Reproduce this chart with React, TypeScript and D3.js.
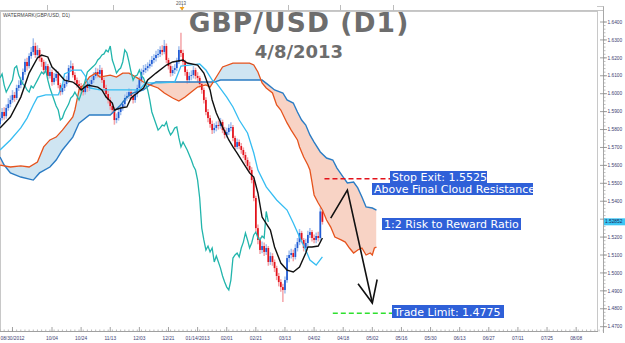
import React from "react";
import * as d3 from "d3";

const W = 625;
const H = 343;

// ---------- price data (pips, /10000) ----------
const firstOpen = 15830;
const closes = [
  15864, 15898, 15875, 15920, 15942, 15965, 15993, 15976, 16032, 16048,
  16076, 16121, 16177, 16154, 16210, 16233, 16266, 16216, 16244, 16199,
  16177, 16132, 16154, 16099, 16121, 16065, 16088, 16110, 16048, 16009,
  16032, 16054, 16076, 16143, 16154, 16104, 16076, 16054, 16043, 16021,
  16009, 16043, 16032, 16054, 16076, 16099, 16121, 16110, 16132, 16076,
  16032, 15998, 15965, 15931, 15909, 15853, 15864, 15898, 15920, 15942,
  15976, 15987, 16009, 15987, 15965, 15998, 16032, 16076, 16121, 16132,
  16143, 16154, 16166, 16188, 16199, 16216, 16222, 16244, 16233, 16266,
  16188, 16154, 16115, 16132, 16143, 16177, 16244, 16227, 16177, 16121,
  16076, 16099, 16104, 16132, 16099, 16088, 16054, 16021, 15965, 15898,
  15864, 15831, 15797, 15809, 15825, 15820, 15842, 15797, 15770, 15786,
  15809, 15814, 15753, 15703, 15730, 15708, 15686, 15658, 15630, 15597,
  15574, 15518, 15418, 15250, 15184, 15128, 15150, 15117, 15139, 15061,
  15094, 15061, 15027, 14983, 14949, 14921, 14905, 14960, 15083, 15100,
  15111, 15089, 15139, 15172, 15223, 15184, 15139, 15167, 15212, 15228,
  15195, 15184, 15206, 15195, 15343, 15285,
];
const highs = [
  15890, 15920, 15925, 15940, 15975, 15990, 16020, 16010, 16050, 16075,
  16095, 16140, 16195, 16200, 16225, 16260, 16309, 16285, 16270, 16255,
  16215, 16190, 16180, 16165, 16150, 16135, 16115, 16135, 16125, 16060,
  16055, 16075, 16100, 16160, 16185, 16170, 16120, 16090, 16075, 16060,
  16040, 16065, 16070, 16080, 16095, 16120, 16145, 16140, 16160, 16145,
  16090, 16050, 16015, 15980, 15950, 15925, 15890, 15915, 15940, 15960,
  15995, 16010, 16030, 16025, 16000, 16020, 16050, 16095, 16140, 16160,
  16165, 16175, 16190, 16210, 16220, 16240, 16250, 16265, 16270, 16300,
  16280, 16200, 16170, 16155, 16165, 16200, 16265, 16340, 16245, 16190,
  16135, 16120, 16130, 16155, 16145, 16120, 16100, 16070, 16035, 15980,
  15915, 15880, 15850, 15835, 15845, 15850, 15865, 15855, 15815, 15810,
  15830, 15840, 15825, 15765, 15750, 15745, 15725, 15700, 15675, 15645,
  15620, 15590, 15530, 15430, 15270, 15200, 15175, 15170, 15160, 15150,
  15115, 15110, 15075, 15040, 15000, 14965, 14940, 14980, 15100, 15125,
  15135, 15130, 15160, 15195, 15245, 15235, 15195, 15190, 15235, 15250,
  15240, 15215, 15225, 15230, 15365, 15350,
];
const lows = [
  15810, 15850, 15855, 15860, 15905, 15925, 15950, 15955, 15965, 16015,
  16030, 16060, 16105, 16130, 16140, 16195, 16215, 16200, 16195, 16180,
  16150, 16110, 16115, 16080, 16085, 16045, 16050, 16070, 16030, 15990,
  15995, 16015, 16040, 16060, 16125, 16090, 16055, 16035, 16020, 16000,
  15990, 15995, 16010, 16015, 16035, 16060, 16085, 16090, 16095, 16060,
  16010, 15980, 15945, 15910, 15890, 15827, 15835, 15850, 15880, 15905,
  15925, 15960, 15970, 15965, 15945, 15950, 15980, 16015, 16060, 16105,
  16115, 16125, 16140, 16150, 16170, 16180, 16200, 16205, 16215, 16220,
  16170, 16135, 16095, 16100, 16110, 16125, 16165, 16205, 16160, 16100,
  16055, 16060, 16075, 16085, 16080, 16065, 16035, 16000, 15945, 15880,
  15840, 15810, 15775, 15780, 15790, 15800, 15805, 15780, 15750, 15755,
  15770, 15790, 15735, 15685, 15690, 15690, 15665, 15640, 15610, 15575,
  15555, 15500, 15400, 15230, 15160, 15105, 15110, 15095, 15100, 15040,
  15045, 15040, 15005, 14960, 14925, 14895, 14838, 14885, 14945, 15060,
  15080, 15065, 15075, 15120, 15155, 15165, 15120, 15120, 15150, 15195,
  15175, 15165, 15165, 15175, 15180, 15270,
];

// ---------- Ichimoku lines: [bar, pips] ----------
const tenkan: [number, number][] = [
  [0, 15809], [5, 15870], [10, 15981], [14, 16115], [18, 16199], [20, 16216], [23, 16205],
  [25, 16149], [28, 16115], [31, 16076], [35, 16065], [37, 16048], [39, 16021], [42, 16048],
  [47, 16037], [49, 16021], [51, 15981], [54, 15948], [55, 15909], [58, 15920], [61, 15926],
  [63, 15976], [66, 16004], [69, 16032], [71, 16076], [75, 16115], [80, 16160], [83, 16177],
  [88, 16188], [90, 16171], [95, 16160], [98, 16115], [101, 16021], [102, 15965], [104, 15892],
  [107, 15814], [110, 15742], [112, 15703], [114, 15669], [117, 15613], [120, 15558], [122, 15535],
  [124, 15446], [126, 15312], [130, 15239], [132, 15145], [135, 15055], [138, 15016], [141, 15005],
  [144, 15033], [147, 15111], [148, 15145], [150, 15145], [153, 15150], [155, 15195],
];
const kijun: [number, number][] = [
  [0, 15686], [5, 15742], [10, 15809], [13, 15864], [16, 15937], [18, 15981], [22, 15993],
  [28, 15993], [30, 16048], [31, 16110], [35, 16132], [39, 16132], [41, 16099], [43, 16032],
  [48, 16021], [67, 16021], [70, 16060], [77, 16060], [84, 16065], [87, 16154], [96, 16166],
  [99, 16132], [102, 16076], [104, 16060], [109, 15981], [112, 15926], [115, 15853], [119, 15781],
  [122, 15669], [124, 15574], [128, 15480], [133, 15407], [138, 15351], [141, 15279], [144, 15200],
  [147, 15128], [149, 15072], [152, 15044], [155, 15089],
];
const senkouA: [number, number][] = [
  [0, 15602], [5, 15591], [10, 15597], [14, 15591], [18, 15619], [21, 15703], [24, 15742],
  [27, 15758], [30, 15797], [35, 15870], [36, 15909], [37, 15965], [38, 16021], [41, 16060],
  [43, 16093], [46, 16115], [48, 16093], [53, 16104], [56, 16093], [59, 16115], [62, 16115],
  [66, 16088], [69, 16065], [72, 16049], [76, 16032], [79, 16004], [83, 15976], [86, 15959],
  [89, 15982], [92, 16009], [95, 16037], [99, 16049], [101, 16037], [104, 16093], [107, 16149],
  [112, 16171], [120, 16171], [122, 16160], [124, 16121], [126, 16060], [128, 16032], [131, 16004],
  [133, 15937], [135, 15909], [138, 15837], [140, 15797], [143, 15742], [144, 15703], [146, 15647],
  [148, 15602], [149, 15574], [150, 15507], [151, 15435], [153, 15390], [155, 15351], [157, 15295],
  [159, 15256], [161, 15200], [164, 15184], [166, 15172], [168, 15139], [170, 15111], [172, 15128],
  [174, 15139], [176, 15100], [178, 15111], [179, 15100], [180, 15139], [181, 15144],
];
const senkouB: [number, number][] = [
  [0, 15647], [2, 15602], [5, 15558], [10, 15535], [16, 15518], [19, 15558], [24, 15591],
  [27, 15630], [30, 15686], [35, 15758], [38, 15836], [43, 15881], [53, 15881], [58, 15937],
  [61, 15981], [64, 16004], [69, 16021], [72, 16049], [75, 16065], [103, 16065], [106, 16076],
  [126, 16076], [129, 16049], [132, 16021], [136, 16004], [138, 15965], [141, 15948], [143, 15898],
  [145, 15853], [147, 15825], [149, 15770], [151, 15730], [154, 15675], [157, 15641], [160, 15630],
  [162, 15585], [165, 15535], [167, 15502], [170, 15507], [172, 15474], [174, 15424], [176, 15368],
  [179, 15362], [181, 15351],
];
const CHIKOU_LAG = 26;

// ---------- axes ----------
const priceTicks = [1.47, 1.48, 1.49, 1.5, 1.51, 1.52, 1.53, 1.54, 1.55, 1.56, 1.57, 1.58, 1.59, 1.6, 1.61, 1.62, 1.63, 1.64];
const dateLabels = ["08/30/2012", "10/04", "10/24", "11/13", "12/03", "12/21", "01/14/2013", "02/01", "02/21", "03/13", "04/02", "04/18", "05/02", "05/16", "05/30", "06/13", "06/27", "07/11", "07/25", "08/08"];
const dateBars = [6, 25, 39, 53, 67, 81, 95, 109, 123, 137, 151, 165, 179, 193, 207, 221, 235, 249, 263, 277];
const lastPrice = 1.52852;

// ---------- trade annotations ----------
const stopExit = 1.5525;
const tradeLimit = 1.4775;
const arrowPath: [number, number][] = [[159, 1.5306], [167, 1.5462], [179, 1.4832]];

export default function App() {
  const x = d3.scaleLinear().domain([0, 300]).range([0, 624]);
  const y = d3.scaleLinear().domain([1.47, 1.64]).range([326.7, 22]);
  const P = (v: number) => v / 10000;

  const line = d3
    .line<[number, number]>()
    .x((d) => x(d[0]))
    .y((d) => y(P(d[1])));

  const cloudPts = [...senkouA, ...senkouB.slice().reverse()];
  const cloudPath = line(cloudPts) + "Z";
  const bPath = line(senkouB) as string;
  const lastBar = senkouB[senkouB.length - 1][0];
  const aboveB = `M${x(0)},0L${bPath.slice(1)}L${x(lastBar)},0Z`;
  const belowB = `M${x(0)},${H}L${bPath.slice(1)}L${x(lastBar)},${H}Z`;

  const chikou: [number, number][] = closes
    .slice(CHIKOU_LAG)
    .map((c, i) => [i, c] as [number, number]);

  const candles = closes.map((c, i) => {
    const o = i === 0 ? firstOpen : closes[i - 1];
    return { i, o: P(o), c: P(c), h: P(highs[i]), l: P(lows[i]) };
  });

  const minorPrice = d3.range(1.47, 1.6401, 0.002);
  const minorBars = d3.range(0, 291, 2);

  const arrowLine = d3
    .line<[number, number]>()
    .x((d) => x(d[0]))
    .y((d) => y(d[1]));
  const a1 = arrowPath[1];
  const a2 = arrowPath[2];
  const ex = x(a2[0]);
  const ey = y(a2[1]);
  const ang = Math.atan2(ey - y(a1[1]), ex - x(a1[0]));
  const headLen = 24;
  const headA = 0.42;
  const head1 = [ex - headLen * Math.cos(ang - headA), ey - headLen * Math.sin(ang - headA)];
  const head2 = [ex - headLen * Math.cos(ang + headA), ey - headLen * Math.sin(ang + headA)];

  const boxBlue = "#2f60d8";
  const labelFont = "DejaVu Sans, Verdana, sans-serif";
  const axisFont = "Liberation Sans, Arial, sans-serif";
  const axisColor = "#3d3d72";
  const lastY = y(lastPrice);

  return (
    <svg
      width={W}
      height={H}
      style={{ position: "absolute", left: 0, top: 0, display: "block", background: "#fff" }}
    >
      <defs>
        <clipPath id="plot">
          <rect x={0} y={12} width={597} height={319} />
        </clipPath>
        <clipPath id="aboveB">
          <path d={aboveB} />
        </clipPath>
        <clipPath id="belowB">
          <path d={belowB} />
        </clipPath>
      </defs>

      {/* navigator strip */}
      <line x1={0} x2={603} y1={10.5} y2={10.5} stroke="#c4c4c4" />
      {[47, 113, 182, 288, 340, 393].map((t) => (
        <line key={t} x1={t + 0.5} x2={t + 0.5} y1={5} y2={10.5} stroke="#bcbcbc" />
      ))}
      <text x={181} y={4.5} fontSize={4.5} fontFamily={axisFont} fill="#555" textAnchor="middle">
        2013
      </text>
      <path d="M179.5,7 L184.5,7 L182,10.5 Z" fill="#f2a21e" />

      {/* plot frame */}
      <rect x={0.5} y={11.5} width={597} height={320} fill="none" stroke="#c8c8c8" />
      <line x1={603.5} x2={603.5} y1={6} y2={333} stroke="#a8a8a8" />
      <line x1={597} x2={603.5} y1={6.5} y2={6.5} stroke="#c8c8c8" />

      <g clipPath="url(#plot)">
        {/* cloud */}
        <path d={cloudPath} fill="#cfe5f2" clipPath="url(#aboveB)" />
        <path d={cloudPath} fill="#f8d3c5" clipPath="url(#belowB)" />

        {/* candles */}
        {candles.map((d) => {
          const up = d.c >= d.o;
          const cx = x(d.i);
          const top = y(Math.max(d.o, d.c));
          const bot = y(Math.min(d.o, d.c));
          return (
            <g key={d.i}>
              <line
                x1={cx}
                x2={cx}
                y1={y(d.h)}
                y2={y(d.l)}
                stroke={up ? "#a3c0ee" : "#f4a3a7"}
                strokeWidth={1.5}
              />
              <rect
                x={cx - 0.85}
                y={top}
                width={1.7}
                height={Math.max(0.9, bot - top)}
                fill={up ? "#1f5ad4" : "#e3121b"}
              />
            </g>
          );
        })}

        {/* cloud lines */}
        <path d={line(senkouB) as string} fill="none" stroke="#2b7cc4" strokeWidth={1.4} />
        <path d={line(senkouA) as string} fill="none" stroke="#e6531d" strokeWidth={1.3} />

        {/* other lines */}
        <path d={line(chikou) as string} fill="none" stroke="#22b5ac" strokeWidth={1.3} />
        <path d={line(kijun) as string} fill="none" stroke="#36bdf2" strokeWidth={1.3} />
        <path d={line(tenkan) as string} fill="none" stroke="#111" strokeWidth={1.4} />

        {/* stop / limit lines */}
        <line
          x1={x(156)}
          x2={x(187.5)}
          y1={y(stopExit)}
          y2={y(stopExit)}
          stroke="#e3121b"
          strokeWidth={1.5}
          strokeDasharray="5 3"
        />
        <line
          x1={x(160)}
          x2={x(188.5)}
          y1={y(tradeLimit)}
          y2={y(tradeLimit)}
          stroke="#2fe02f"
          strokeWidth={1.5}
          strokeDasharray="5 3"
        />

        {/* arrow */}
        <path d={arrowLine(arrowPath) as string} fill="none" stroke="#111" strokeWidth={1.6} />
        <path
          d={`M${head1[0]},${head1[1]}L${ex},${ey}L${head2[0]},${head2[1]}`}
          fill="none"
          stroke="#111"
          strokeWidth={1.6}
        />
      </g>

      {/* watermark */}
      <text x={3} y={16.5} fontSize={5} fontFamily={axisFont} fill="#444">
        WATERMARK(GBP/USD, D1)
      </text>

      {/* titles */}
      <text
        x={299}
        y={32}
        textAnchor="middle"
        fontFamily={labelFont}
        fontWeight="bold"
        fontSize={26.5}
        letterSpacing={1.1}
        fill="#6d6d6d"
      >
        GBP/USD (D1)
      </text>
      <text x={299} y={58} textAnchor="middle" fontFamily={labelFont} fontWeight="bold" fontSize={18} fill="#6d6d6d">
        4/8/2013
      </text>

      {/* annotation boxes */}
      <rect x={390} y={171} width={97} height={12} fill={boxBlue} />
      <text x={392} y={181} fontSize={11} fontFamily={labelFont} fill="#fff">
        Stop Exit: 1.5525
      </text>
      <rect x={372} y={183} width={161} height={12} fill={boxBlue} />
      <text x={374} y={193} fontSize={11} fontFamily={labelFont} fill="#fff">
        Above Final Cloud Resistance
      </text>
      <rect x={382} y={218} width={139} height={12} fill={boxBlue} />
      <text x={384} y={228} fontSize={11} fontFamily={labelFont} fill="#fff">
        1:2 Risk to Reward Ratio
      </text>
      <rect x={392} y={305} width={112} height={13} fill={boxBlue} />
      <text x={394} y={315.5} fontSize={11} fontFamily={labelFont} fill="#fff">
        Trade Limit: 1.4775
      </text>

      {/* y axis */}
      {minorPrice.map((p, i) => (
        <line key={"mp" + i} x1={603.5} x2={605.5} y1={y(p)} y2={y(p)} stroke="#a0a0a0" strokeWidth={0.7} />
      ))}
      {priceTicks.map((p) => (
        <g key={p}>
          <line x1={600} x2={607} y1={y(p)} y2={y(p)} stroke="#8a8a8a" strokeWidth={0.8} />
          {Math.abs(y(p) - lastY) > 6 && (
            <text x={607.5} y={y(p)} dy="0.35em" fontSize={4.8} fontFamily={axisFont} fill={axisColor}>
              {p.toFixed(4)}
            </text>
          )}
        </g>
      ))}
      <rect x={604} y={lastY - 3.5} width={21} height={7} fill="#3cc6f4" />
      <text x={605} y={lastY} dy="0.35em" fontSize={4.8} fontFamily={axisFont} fill="#1a2a5a">
        {lastPrice.toFixed(5)}
      </text>

      {/* x axis */}
      <line x1={0} x2={598} y1={331.5} y2={331.5} stroke="#a0a0a0" />
      {minorBars.map((b) => (
        <line key={"mb" + b} x1={x(b)} x2={x(b)} y1={329.5} y2={331.5} stroke="#a0a0a0" strokeWidth={0.7} />
      ))}
      {dateBars.map((b, i) => (
        <g key={"db" + b}>
          <line x1={x(b)} x2={x(b)} y1={327} y2={331.5} stroke="#8a8a8a" strokeWidth={0.8} />
          <text x={x(b)} y={339.5} textAnchor="middle" fontSize={4.8} fontFamily={axisFont} fill={axisColor}>
            {dateLabels[i]}
          </text>
        </g>
      ))}
    </svg>
  );
}
